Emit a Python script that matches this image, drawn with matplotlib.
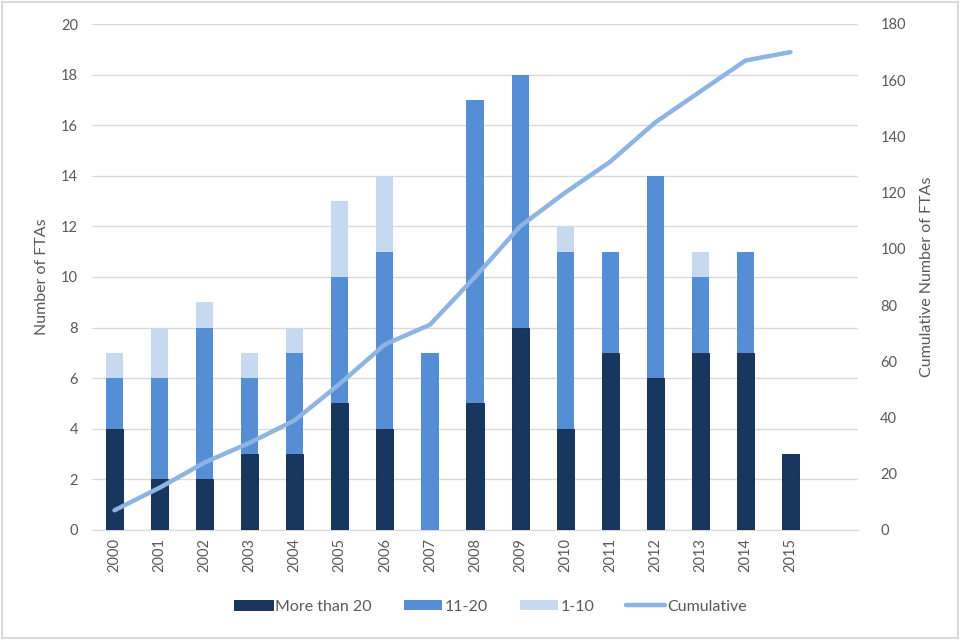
import matplotlib.pyplot as plt
import numpy as np
from matplotlib.patches import Rectangle

years = [str(y) for y in range(2000, 2016)]
more_than_20 = [4, 2, 2, 3, 3, 5, 4, 0, 5, 8, 4, 7, 6, 7, 7, 3]
from_11_to_20 = [2, 4, 6, 3, 4, 5, 7, 7, 12, 10, 7, 4, 8, 3, 4, 0]
from_1_to_10 = [1, 2, 1, 1, 1, 3, 3, 0, 0, 0, 1, 0, 0, 1, 0, 0]
cumulative = [7, 15, 24, 31, 39, 52, 66, 73, 90, 108, 120, 131, 145, 156, 167, 170]

dark = "#17375E"
mid = "#558ED5"
light = "#C6D9F1"
line_col = "#8DB4E2"
text_col = "#595959"
grid_col = "#D9D9D9"

plt.rcParams["font.family"] = ["Lato", "DejaVu Sans"]
plt.rcParams["font.size"] = 10.5

fig = plt.figure(figsize=(9.6, 6.4), dpi=100)
ax = fig.add_axes([0.0958, 0.172, 0.798, 0.7905])
ax2 = ax.twinx()

x = np.arange(len(years))
w = 0.38
b1 = np.array(more_than_20)
b2 = b1 + np.array(from_11_to_20)
ax.bar(x, more_than_20, w, color=dark, edgecolor="#0B1F4A", linewidth=0.6,
       label="More than 20", zorder=3)
ax.bar(x, from_11_to_20, w, bottom=b1, color=mid, label="11-20", zorder=3)
ax.bar(x, from_1_to_10, w, bottom=b2, color=light, label="1-10", zorder=3)

ax2.plot(x, cumulative, color=line_col, linewidth=3.2, solid_capstyle="round",
         label="Cumulative")

ax.set_xlim(-0.5, 16.5)
ax.set_ylim(0, 20)
ax.set_yticks(range(0, 21, 2))
ax2.set_ylim(0, 180)
ax2.set_yticks(range(0, 181, 20))
ax.set_xticks(x)
ax.set_xticklabels(years, rotation=90)

ax.grid(axis="y", color=grid_col, linewidth=1, zorder=0)
ax.set_axisbelow(True)
for a in (ax, ax2):
    for s in a.spines.values():
        s.set_visible(False)
    a.tick_params(length=0, colors=text_col, labelsize=10.5)
ax.spines["bottom"].set_visible(True)
ax.spines["bottom"].set_color(grid_col)
ax.tick_params(axis="y", pad=10)
ax2.tick_params(axis="y", pad=16)
ax.tick_params(axis="x", pad=6)

ax.set_ylabel("Number of FTAs", color=text_col, fontsize=11.5, labelpad=9)
ax2.set_ylabel("Cumulative Number of FTAs", color=text_col, fontsize=11.5, labelpad=10)

h1, l1 = ax.get_legend_handles_labels()
h2, l2 = ax2.get_legend_handles_labels()
fig.legend(h1 + h2, l1 + l2, loc="center", bbox_to_anchor=(0.511, 0.052), ncol=4,
           frameon=False, fontsize=11.5, labelcolor=text_col, handlelength=2.4,
           handleheight=0.6, handletextpad=0.15, columnspacing=2.0)

fig.patches.append(Rectangle((0.002, 0.003), 0.996, 0.994, transform=fig.transFigure,
                             fill=False, edgecolor=grid_col, linewidth=1.5))

fig.savefig("out.png", dpi=100)
